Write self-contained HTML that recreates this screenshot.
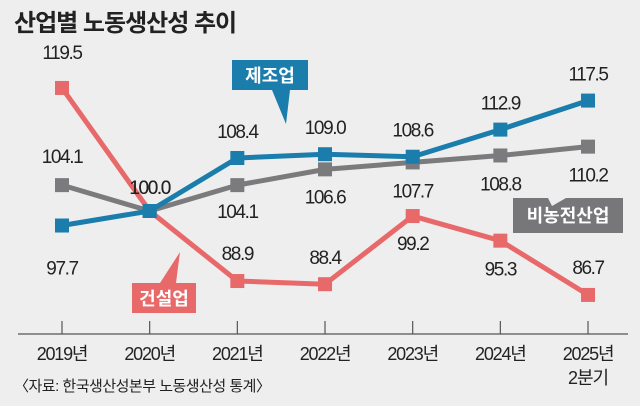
<!DOCTYPE html>
<html><head><meta charset="utf-8"><style>
body{margin:0;background:#eeeeee;}
svg{display:block;font-family:"Liberation Sans","Noto Sans CJK KR",sans-serif;}
</style></head><body>
<svg width="640" height="406" viewBox="0 0 640 406">
<rect width="640" height="406" fill="#eeeeee"/>
<text x="14" y="31" font-size="24" font-weight="bold" fill="#222" style="letter-spacing:-1px">산업별 노동생산성 추이</text>
<g id="axis"></g>
<g id="series"></g>
<g id="legends">
 <path d="M232 60 H308 V90 H290 L286 124 L272 90 H232 Z" fill="#1a7dab"/>
 <text x="270" y="82" font-size="18" font-weight="bold" fill="#fff" text-anchor="middle">제조업</text>
 <path d="M513 198 H548 L552 206 L566 198 H623 V233 H513 Z" fill="#77777a"/>
 <text x="568" y="222" font-size="18" font-weight="bold" fill="#fff" text-anchor="middle">비농전산업</text>
 <path d="M132 283 H160 L180 252 L176 283 H196 V313 H132 Z" fill="#e8696a"/>
 <text x="164" y="305" font-size="18" font-weight="bold" fill="#fff" text-anchor="middle">건설업</text>
</g>
<text x="14" y="391" font-size="15" fill="#222" style="letter-spacing:-0.5px">〈자료: 한국생산성본부 노동생산성 통계〉</text>
</svg>
<script>
const categories=["2019년","2020년","2021년","2022년","2023년","2024년","2025년"];
const manufacturing=[97.7,100.0,108.4,109.0,108.6,112.9,117.5];
const nonfarm=[104.1,100.0,104.1,106.6,107.7,108.8,110.2];
const construction=[119.5,100.0,88.9,88.4,99.2,95.3,86.7];
const mfgLabelDy=[42,0,-27,-27,-27,-27,-27];
const nfLabelDy=[-29,0,26,27,28,28,28];
const conLabelDy=[-36,-24,-28,-27,27,28,-28];
const ns="http://www.w3.org/2000/svg";
function x(i){return 62+i*87.67;}
function y(v){return 211-(v-100)*6.31;}
function mk(tag,attrs,parent){const e=document.createElementNS(ns,tag);for(const k in attrs)e.setAttribute(k,attrs[k]);parent.appendChild(e);return e;}
const ax=document.getElementById('axis');
const base=mk('line',{x1:18,x2:628,y1:334,y2:334,stroke:'#555','stroke-width':1.2},ax);


categories.forEach((c,i)=>{
 const t=mk('line',{x1:x(i),x2:x(i),y1:321,y2:334,stroke:'#555','stroke-width':1.2},ax);
 
 
 const l=mk('text',{x:x(i),y:360,'font-size':18,'text-anchor':'middle',fill:'#222','letter-spacing':'-1.2'},ax);
 l.textContent=c;
 
 
});
const q=mk('text',{x:x(6),y:384,'font-size':18,'text-anchor':'middle',fill:'#222','letter-spacing':'-1'},ax);
q.textContent='2분기';


const sg=document.getElementById('series');
function draw(vals,color,name){
 const g=mk('g',{},sg);
 
 
 const pl=mk('polyline',{points:vals.map((v,i)=>x(i)+','+y(v)).join(' '),fill:'none',stroke:color,'stroke-width':5,'stroke-linejoin':'round'},g);
 
 
 vals.forEach((v,i)=>{
  const r=mk('rect',{x:x(i)-7,y:y(v)-7,width:14,height:14,fill:color},g);
  
  
 });
}
function labels(vals,dys,name){
 vals.forEach((v,i)=>{
  if(dys[i]===0)return;
  const t=mk('text',{x:x(i),y:y(v)+dys[i]+7,'font-size':19,'text-anchor':'middle',fill:'#222','letter-spacing':'-1.4'},sg);
  t.textContent=v.toFixed(1);
  
  
 });
}
draw(construction,'#e8696a','construction');
draw(nonfarm,'#7b7b7e','nonfarm');
draw(manufacturing,'#1a7dab','manufacturing');
labels(construction,conLabelDy,'construction');
labels(nonfarm,nfLabelDy,'nonfarm');
labels(manufacturing,mfgLabelDy,'manufacturing');
const c0=mk('text',{x:x(1),y:y(100)-24+7,'font-size':19,'text-anchor':'middle',fill:'#222','letter-spacing':'-1.4'},sg);
c0.textContent='100.0';


</script>
</body></html>
